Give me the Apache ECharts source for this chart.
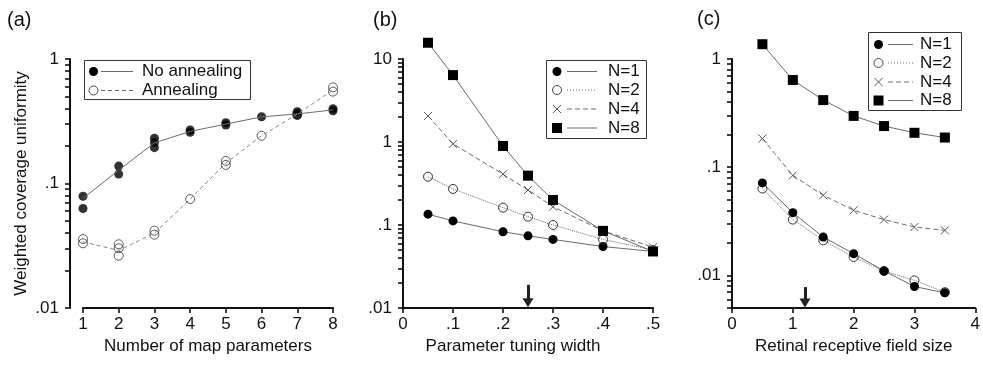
<!DOCTYPE html>
<html><head><meta charset="utf-8">
<script src="https://cdn.jsdelivr.net/npm/echarts@6/dist/echarts.min.js"></script>
<style>html,body{margin:0;padding:0;background:#fff}#c{width:983px;height:367px}</style>
</head><body><div id="c"></div>
<script>
// ---------- Panel (a) ----------
const aX = [1, 2, 3, 4, 5, 6, 7, 8];
const aNoAnnealMean = [0.076, 0.128, 0.212, 0.262, 0.300, 0.343, 0.362, 0.390];
const aAnnealMean = [0.034, 0.029, 0.040, 0.075, 0.146, 0.242, 0.360, 0.565];
const aNoAnnealRuns = [[1, 0.079], [1, 0.063], [2, 0.138], [2, 0.119], [3, 0.231], [3, 0.213], [3, 0.194],
  [4, 0.269], [4, 0.258], [5, 0.308], [5, 0.295], [6, 0.344], [7, 0.377], [7, 0.355], [8, 0.399], [8, 0.384]];
const aAnnealRuns = [[1, 0.0358], [1, 0.0331], [2, 0.0325], [2, 0.0302], [2, 0.0263], [3, 0.0418], [3, 0.0388],
  [4, 0.075], [5, 0.152], [5, 0.141], [6, 0.242], [7, 0.365], [7, 0.355], [8, 0.592], [8, 0.547]];
const aYMajor = [0.01, 0.1, 1];

// ---------- Panel (b) ----------
const bX = [0.05, 0.1, 0.2, 0.25, 0.3, 0.4, 0.5];
const bN1 = [0.135, 0.112, 0.083, 0.074, 0.067, 0.055, 0.048];
const bN2 = [0.382, 0.272, 0.162, 0.126, 0.100, 0.067, 0.050];
const bN4 = [2.06, 0.95, 0.41, 0.264, 0.166, 0.085, 0.054];
const bN8 = [15.7, 6.4, 0.895, 0.393, 0.200, 0.085, 0.048];
const bYMajor = [0.01, 0.1, 1, 10];
const bArrow = [0.25, 0.019, 0.0116];

// ---------- Panel (c) ----------
const cX = [0.5, 1, 1.5, 2, 2.5, 3, 3.5];
const cN1 = [0.0716, 0.038, 0.0226, 0.0159, 0.011, 0.0079, 0.0069];
const cN2 = [0.0635, 0.0328, 0.0211, 0.0148, 0.011, 0.009, 0.007];
const cN4 = [0.184, 0.084, 0.055, 0.040, 0.0328, 0.028, 0.0261];
const cN8 = [1.37, 0.64, 0.417, 0.298, 0.24, 0.208, 0.188];
const cYMajor = [0.01, 0.1, 1];
const cArrow = [1.2, 0.0078, 0.00556];

const legendA = ['No annealing', 'Annealing'];
const legendN = ['N=1', 'N=2', 'N=4', 'N=8'];

const FONT = 'Liberation Sans';
const zip = (xs, ys) => xs.map((x, i) => [x, ys[i]]);
function logTicks(lo, hi) {
  const t = [];
  for (let e = Math.floor(Math.log10(lo) - 1e-9); e <= Math.ceil(Math.log10(hi)); e++) {
    for (let k = 1; k <= 9; k++) {
      const v = +(k * Math.pow(10, e)).toPrecision(3);
      if (v >= lo - 1e-12 && v <= hi + 1e-12) t.push(v);
    }
  }
  return t;
}
const fmtLog = v => v >= 1 ? String(Math.round(v)) : String(+v.toPrecision(2)).replace(/^0\./, '.');
const fmtDec = v => Math.abs(v) < 1e-9 ? '0' : v.toFixed(1).replace(/^0\./, '.');

const labelStyle = { fontFamily: FONT, fontSize: 17, color: '#111' };
function yAxisLog(gi, min, max, majors, offset, name) {
  return {
    type: 'log', logBase: 10, gridIndex: gi, min, max, offset,
    axisLine: { show: true, onZero: false, lineStyle: { color: '#111', width: 2 } },
    axisTick: { show: true, length: 5, customValues: logTicks(min, max), lineStyle: { color: '#000', width: 1.5 } },
    axisLabel: Object.assign({ customValues: majors, formatter: fmtLog, margin: 11 }, labelStyle),
    splitLine: { show: true, lineStyle: { opacity: 0 } },
    name: name || '', nameLocation: 'middle', nameGap: 40,
    nameTextStyle: Object.assign({}, labelStyle)
  };
}
function xAxisLin(gi, min, max, interval, name, fmt, pad) {
  return {
    type: 'value', gridIndex: gi, min, max, interval,
    axisLine: { show: true, onZero: false, lineStyle: { color: '#111', width: 2 } },
    axisTick: { show: true, length: 5, lineStyle: { color: '#000', width: 1.5 } },
    axisLabel: Object.assign({ formatter: fmt, margin: 8, showMinLabel: true, showMaxLabel: true }, labelStyle),
    splitLine: { show: true, lineStyle: { opacity: 0 } },
    name, nameLocation: 'middle', nameGap: 28,
    nameTextStyle: Object.assign({ padding: pad || 0 }, labelStyle)
  };
}

const LINE = '#6a6a6a';
const filled = { symbol: 'circle', symbolSize: 9, itemStyle: { color: '#000' } };
const open = { symbol: 'circle', symbolSize: 9, itemStyle: { color: 'rgba(0,0,0,0)', borderColor: '#333', borderWidth: 1 } };
const cross = { symbol: 'path://M0,0L10,10M10,0L0,10', symbolSize: 8, symbolKeepAspect: true,
  itemStyle: { color: 'rgba(0,0,0,0)', borderColor: '#555', borderWidth: 1 } };
const square = { symbol: 'rect', symbolSize: 10, itemStyle: { color: '#000' } };

function lineSeries(ai, xs, ys, mk, dash) {
  return Object.assign({
    type: 'line', xAxisIndex: ai, yAxisIndex: ai, data: zip(xs, ys), clip: false,
    showSymbol: true, lineStyle: { color: LINE, width: 1, type: dash || 'solid' }, z: 3
  }, JSON.parse(JSON.stringify(mk)));
}
function arrowLine(arr) {
  return {
    symbol: ['none', 'triangle'], symbolSize: [11, 9], silent: true, animation: false,
    label: { show: false }, lineStyle: { color: '#222', width: 3, type: 'solid' },
    data: [[{ coord: [arr[0], arr[1]] }, { coord: [arr[0], arr[2]] }]]
  };
}

const series = [
  // (a)
  { type: 'line', xAxisIndex: 0, yAxisIndex: 0, data: zip(aX, aNoAnnealMean), symbol: 'none', clip: false,
    lineStyle: { color: LINE, width: 1 } },
  { type: 'line', xAxisIndex: 0, yAxisIndex: 0, data: zip(aX, aAnnealMean), symbol: 'none', clip: false,
    lineStyle: { color: '#888', width: 1, type: [4, 3] } },
  Object.assign({ type: 'scatter', xAxisIndex: 0, yAxisIndex: 0, data: aAnnealRuns, clip: false }, JSON.parse(JSON.stringify(open))),
  Object.assign({ type: 'scatter', xAxisIndex: 0, yAxisIndex: 0, data: aNoAnnealRuns, clip: false }, JSON.parse(JSON.stringify(filled))),
  // (b)
  lineSeries(1, bX, bN1, filled, 'solid'),
  lineSeries(1, bX, bN2, open, 'dotted'),
  lineSeries(1, bX, bN4, cross, [5, 3]),
  Object.assign(lineSeries(1, bX, bN8, square, 'solid'), { markLine: arrowLine(bArrow) }),
  // (c)
  lineSeries(2, cX, cN2, open, 'dotted'),
  lineSeries(2, cX, cN1, filled, 'solid'),
  lineSeries(2, cX, cN4, cross, [5, 3]),
  Object.assign(lineSeries(2, cX, cN8, square, 'solid'), { markLine: arrowLine(cArrow) })
];
series.forEach(s => { s.silent = true; s.emphasis = { disabled: true }; s.animation = false; });

// ---- legends (drawn as graphic) ----
function markerGraphic(kind, x, y) {
  if (kind === 'filled') return [{ type: 'circle', shape: { cx: x, cy: y, r: 4.5 }, style: { fill: '#000' } }];
  if (kind === 'open') return [{ type: 'circle', shape: { cx: x, cy: y, r: 4.5 }, style: { fill: 'none', stroke: '#444', lineWidth: 1 } }];
  if (kind === 'square') return [{ type: 'rect', shape: { x: x - 5, y: y - 5, width: 10, height: 10 }, style: { fill: '#000' } }];
  return [
    { type: 'line', shape: { x1: x - 4, y1: y - 4, x2: x + 4, y2: y + 4 }, style: { stroke: '#555', lineWidth: 1 } },
    { type: 'line', shape: { x1: x - 4, y1: y + 4, x2: x + 4, y2: y - 4 }, style: { stroke: '#555', lineWidth: 1 } }
  ];
}
function legendBox(box, rows, mx, lx1, lx2, tx, items) {
  const els = [{ type: 'rect', shape: { x: box[0], y: box[1], width: box[2], height: box[3] },
    style: { fill: '#fff', stroke: '#333', lineWidth: 1 }, z: 50 }];
  items.forEach((it, i) => {
    const y = rows[i];
    markerGraphic(it.mk, mx, y).forEach(m => { m.z = 51; els.push(m); });
    els.push({ type: 'line', z: 51, shape: { x1: lx1, y1: y, x2: lx2, y2: y },
      style: { stroke: LINE, lineWidth: 1, lineDash: it.dash } });
    els.push({ type: 'text', z: 51, x: tx, y: y, style: { text: it.text, font: '17px "Liberation Sans"', fill: '#111',
      verticalAlign: 'middle', textAlign: 'left' } });
  });
  return els;
}
const graphic = [].concat(
  legendBox([84.5, 60.5, 166, 39], [71.5, 90.5], 93.5, 101, 133, 142,
    [{ mk: 'filled', text: legendA[0], dash: null }, { mk: 'open', text: legendA[1], dash: [4, 3] }]),
  legendBox([546.5, 60.5, 100, 78], [71.5, 90, 109, 128], 557, 567, 597, 608,
    [{ mk: 'filled', text: legendN[0], dash: null }, { mk: 'open', text: legendN[1], dash: [1, 2] },
     { mk: 'cross', text: legendN[2], dash: [5, 3] }, { mk: 'square', text: legendN[3], dash: null }]),
  legendBox([868.5, 32.5, 93, 78], [44.5, 63, 82, 100.5], 878.5, 888, 913, 920,
    [{ mk: 'filled', text: legendN[0], dash: null }, { mk: 'open', text: legendN[1], dash: [1, 2] },
     { mk: 'cross', text: legendN[2], dash: [5, 3] }, { mk: 'square', text: legendN[3], dash: null }]),
  [
    { type: 'text', x: 7, y: 20, style: { text: '(a)', font: '20px "Liberation Sans"', fill: '#111', verticalAlign: 'middle' } },
    { type: 'text', x: 373, y: 20, style: { text: '(b)', font: '20px "Liberation Sans"', fill: '#111', verticalAlign: 'middle' } },
    { type: 'text', x: 697, y: 19, style: { text: '(c)', font: '20px "Liberation Sans"', fill: '#111', verticalAlign: 'middle' } }
  ]
);

const option = {
  animation: false,
  backgroundColor: '#fff',
  textStyle: { fontFamily: FONT },
  grid: [
    { left: 83, top: 59, width: 250, height: 249 },
    { left: 403, top: 59, width: 250, height: 249 },
    { left: 732, top: 59, width: 249.6, height: 249 }
  ],
  xAxis: [
    xAxisLin(0, 1, 8, 1, 'Number of map parameters', v => String(v)),
    xAxisLin(1, 0, 0.5, 0.1, 'Parameter tuning width', fmtDec, [0, 30, 0, 0]),
    xAxisLin(2, 0, 4, 1, 'Retinal receptive field size', v => String(v))
  ],
  yAxis: [
    yAxisLog(0, 0.01, 1, aYMajor, 13, 'Weighted coverage uniformity'),
    yAxisLog(1, 0.01, 10, bYMajor, 0, ''),
    yAxisLog(2, 0.005, 1, cYMajor, 0, '')
  ],
  series,
  graphic
};
const chart = echarts.init(document.getElementById('c'), null, { renderer: 'canvas' });
chart.setOption(option);
</script></body></html>
